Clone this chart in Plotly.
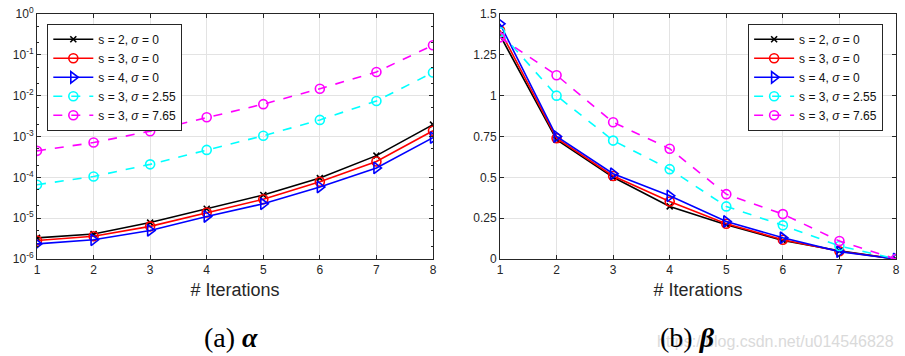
import plotly.graph_objects as go

iterations = [1, 2, 3, 4, 5, 6, 7, 8]

# (a) alpha values (log scale)
alpha_s2_s0 = [3.3e-6, 4.1e-6, 7.8e-6, 1.7e-5, 3.7e-5, 9.6e-5, 3.4e-4, 1.95e-3]
alpha_s3_s0 = [2.85e-6, 3.6e-6, 6.3e-6, 1.38e-5, 2.9e-5, 7.8e-5, 2.45e-4, 1.38e-3]
alpha_s4_s0 = [2.35e-6, 2.95e-6, 5.0e-6, 1.1e-5, 2.25e-5, 5.8e-5, 1.7e-4, 9.4e-4]
alpha_s3_s255 = [6.6e-5, 1.05e-4, 2.08e-4, 4.7e-4, 1.04e-3, 2.55e-3, 7.4e-3, 3.7e-2]
alpha_s3_s765 = [4.45e-4, 7.1e-4, 1.35e-3, 2.95e-3, 6.2e-3, 1.48e-2, 3.8e-2, 0.172]

# (b) beta values
beta_s2_s0 = [1.37, 0.73, 0.50, 0.322, 0.21, 0.113, 0.05, 0.0]
beta_s3_s0 = [1.40, 0.74, 0.508, 0.352, 0.216, 0.118, 0.047, 0.0]
beta_s4_s0 = [1.44, 0.75, 0.522, 0.387, 0.23, 0.13, 0.045, 0.0]
beta_s3_s255 = [1.39, 1.0, 0.725, 0.55, 0.322, 0.206, 0.08, 0.0]
beta_s3_s765 = [1.357, 1.125, 0.837, 0.675, 0.397, 0.275, 0.11, 0.0]

series_names = ["s = 2, <i>σ</i> = 0", "s = 3, <i>σ</i> = 0", "s = 4, <i>σ</i> = 0",
                "s = 3, <i>σ</i> = 2.55", "s = 3, <i>σ</i> = 7.65"]
colors = ["black", "red", "blue", "cyan", "magenta"]
symbols = ["x-thin", "circle-open", "triangle-right-open", "circle-open", "circle-open"]
msizes = [6, 9, 10, 9, 9]
dashes = ["solid", "solid", "solid", "dash", "dash"]

log_tickvals = [1e-6, 1e-5, 1e-4, 1e-3, 1e-2, 1e-1, 1]
log_ticktext = ["10<sup>-6</sup>", "10<sup>-5</sup>", "10<sup>-4</sup>", "10<sup>-3</sup>",
                "10<sup>-2</sup>", "10<sup>-1</sup>", "10<sup>0</sup>"]
lin_tickvals = [0, 0.25, 0.5, 0.75, 1, 1.25, 1.5]
lin_ticktext = ["0", "0.25", "0.5", "0.75", "1", "1.25", "1.5"]

alpha_data = [alpha_s2_s0, alpha_s3_s0, alpha_s4_s0, alpha_s3_s255, alpha_s3_s765]
beta_data = [beta_s2_s0, beta_s3_s0, beta_s4_s0, beta_s3_s255, beta_s3_s765]

fig = go.Figure()
for i in range(5):
    fig.add_trace(go.Scatter(
        x=iterations, y=alpha_data[i], name=series_names[i], mode="lines+markers",
        line=dict(color=colors[i], width=1.6, dash=dashes[i]),
        marker=dict(symbol=symbols[i], size=msizes[i], color=colors[i],
                    line=dict(color=colors[i], width=1.6)),
        xaxis="x", yaxis="y", legend="legend"))
for i in range(5):
    fig.add_trace(go.Scatter(
        x=iterations, y=beta_data[i], name=series_names[i], mode="lines+markers",
        line=dict(color=colors[i], width=1.6, dash=dashes[i]),
        marker=dict(symbol=symbols[i], size=msizes[i], color=colors[i],
                    line=dict(color=colors[i], width=1.6)),
        xaxis="x2", yaxis="y2", legend="legend2"))

FONT = "Liberation Sans, Arial"
axis_common = dict(showline=True, linecolor="#262626", linewidth=1, mirror="ticks",
                   ticks="inside", ticklen=4, tickcolor="#262626", automargin=False,
                   ticklabeloverflow="allow",
                   showgrid=True, gridcolor="#e3e3e3", gridwidth=1, zeroline=False,
                   tickfont=dict(family=FONT, size=12, color="#262626"))

title_font = dict(family=FONT, size=18, color="#262626")

leg_common = dict(bgcolor="white", bordercolor="#262626", borderwidth=1,
                  font=dict(family=FONT, size=12, color="#111"),
                  tracegroupgap=0, itemwidth=40)

fig.update_layout(
    template="none",
    width=905, height=356,
    margin=dict(l=37, r=9, t=14, b=97),
    paper_bgcolor="white", plot_bgcolor="white",
    xaxis=dict(domain=[0, 0.461], range=[1, 8], tickvals=iterations, anchor="y",
               title=dict(text="# Iterations", font=title_font, standoff=6),
               **axis_common),
    yaxis=dict(type="log", range=[-6, 0], tickvals=log_tickvals, ticktext=log_ticktext, anchor="x",
               minor=dict(ticks="inside", ticklen=2, tickcolor="#262626", showgrid=False),
               **axis_common),
    xaxis2=dict(domain=[0.539, 1], range=[1, 8], tickvals=iterations, anchor="y2",
                title=dict(text="# Iterations", font=title_font, standoff=6),
                **axis_common),
    yaxis2=dict(range=[0, 1.5], tickvals=lin_tickvals, ticktext=lin_ticktext, anchor="x2",
                **axis_common),
    legend=dict(x=0.012, y=0.96, xanchor="left", yanchor="top", **leg_common),
    legend2=dict(x=0.985, y=0.96, xanchor="right", yanchor="top", **leg_common),
    showlegend=True,
)

fig.add_annotation(text="(a) <b><i>α</i></b>", xref="paper", yref="paper",
                   x=0.226, y=-0.32, xanchor="center", yanchor="middle", showarrow=False,
                   font=dict(family="Liberation Serif, Times New Roman", size=28, color="black"))
fig.add_annotation(text="https://blog.csdn.net/u014546828", xref="paper", yref="paper",
                   x=1.0, y=-0.335, xanchor="right", yanchor="middle", showarrow=False,
                   font=dict(family=FONT, size=16, color="#dadada"))
fig.add_annotation(text="(b) <b><i>β</i></b>", xref="paper", yref="paper",
                   x=0.757, y=-0.32, xanchor="center", yanchor="middle", showarrow=False,
                   font=dict(family="Liberation Serif, Times New Roman", size=28, color="black"))

fig.write_html("out.html", config={"displayModeBar": False},
               post_script="document.body.style.margin='0px';")
